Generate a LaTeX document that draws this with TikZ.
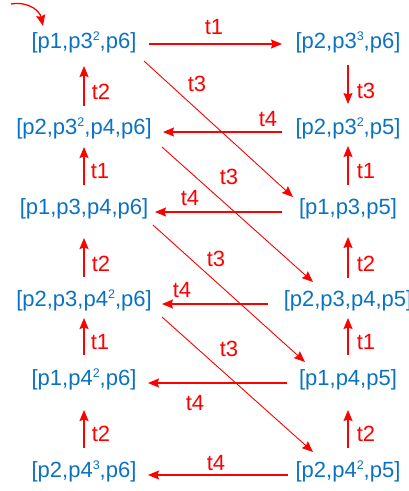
\documentclass[tikz,border=0pt]{standalone}
\usepackage{fontspec}
\setmainfont{Liberation Sans}
\usetikzlibrary{arrows.meta}
\definecolor{nodeblue}{RGB}{10,114,194}
\definecolor{arrred}{RGB}{255,0,0}
\newcommand\mysup[1]{\raisebox{0.36em}{\fontsize{12.5}{13}\selectfont #1}}
\begin{document}
\begin{tikzpicture}[x=1pt,y=-1pt,
  state/.style={inner sep=0pt, text height=0.73em, text depth=0.21em, text=nodeblue, font=\fontsize{22}{26}\selectfont},
  lbl/.style={inner sep=0pt, text=arrred, font=\fontsize{22}{26}\selectfont},
  arr/.style={draw=arrred, line width=1.3pt, -{Stealth[length=11pt,width=9pt,inset=1.5pt]}},
  diag/.style={arr, line width=0.9pt}]
\useasboundingbox (0,0) rectangle (409,491);
% states
\node[state] (L1) at (84,46)  {[p1,p3\mysup{2},p6]};
\node[state] (L2) at (84,132) {[p2,p3\mysup{2},p4,p6]};
\node[state] (L3) at (84,212) {[p1,p3,p4,p6]};
\node[state] (L4) at (84,304) {[p2,p3,p4\mysup{2},p6]};
\node[state] (L5) at (84,383) {[p1,p4\mysup{2},p6]};
\node[state] (L6) at (84,475) {[p2,p4\mysup{3},p6]};
\node[state] (R1) at (348,46)  {[p2,p3\mysup{3},p6]};
\node[state] (R2) at (348,132) {[p2,p3\mysup{2},p5]};
\node[state] (R3) at (348,212) {[p1,p3,p5]};
\node[state] (R4) at (348,304) {[p2,p3,p4,p5]};
\node[state] (R5) at (348,383) {[p1,p4,p5]};
\node[state] (R6) at (348,475) {[p2,p4\mysup{2},p5]};
% initial arrow
\coordinate (s0) at (11,4);
\coordinate (s1) at (43,26);
\draw[arr] (s0) .. controls (30,1) and (40,12) .. (s1);
% vertical arrows
\draw[arr, shorten <=26pt, shorten >=20pt] (L2.center) -- (L1.center);
\draw[arr, shorten <=27pt, shorten >=15pt] (L3.center) -- (L2.center);
\draw[arr, shorten <=27pt, shorten >=26pt] (L4.center) -- (L3.center);
\draw[arr, shorten <=28pt, shorten >=14pt] (L5.center) -- (L4.center);
\draw[arr, shorten <=27pt, shorten >=27pt] (L6.center) -- (L5.center);
\draw[arr, shorten <=19pt, shorten >=28pt] (R1.center) -- (R2.center);
\draw[arr, shorten <=27pt, shorten >=14pt] (R3.center) -- (R2.center);
\draw[arr, shorten <=26pt, shorten >=25pt] (R4.center) -- (R3.center);
\draw[arr, shorten <=28pt, shorten >=14pt] (R5.center) -- (R4.center);
\draw[arr, shorten <=27pt, shorten >=27pt] (R6.center) -- (R5.center);
% horizontal arrows
\draw[arr, shorten <=65pt, shorten >=66pt] ([yshift=2pt]L1.center) -- ([yshift=2pt]R1.center);
\draw[arr, shorten <=66pt, shorten >=79pt] (R2.center) -- (L2.center);
\draw[arr, shorten <=66pt, shorten >=71pt] (R3.center) -- (L3.center);
\draw[arr, shorten <=80pt, shorten >=78pt] (R4.center) -- (L4.center);
\draw[arr, shorten <=61pt, shorten >=64pt] (R5.center) -- (L5.center);
\draw[arr, shorten <=60pt, shorten >=64pt] (R6.center) -- (L6.center);
% diagonal arrows
\draw[diag] ([shift={(60,15)}]L1.center) -- ([shift={(-55,-15)}]R3.center);
\draw[diag] ([shift={(78,15)}]L2.center) -- ([shift={(-35,-22)}]R4.center);
\draw[diag] ([shift={(69,13)}]L3.center) -- ([shift={(-43,-21)}]R5.center);
\draw[diag] ([shift={(78,13)}]L4.center) -- ([shift={(-35,-23)}]R6.center);
% labels
\node[lbl] (lt1a) at (214,27) {t1};
\node[lbl] (lt3a) at (366,91) {t3};
\node[lbl] (lt4a) at (268,119) {t4};
\node[lbl] (lt3b) at (197,84) {t3};
\node[lbl] (lt2a) at (101,92) {t2};
\node[lbl] (lt1b) at (100,171) {t1};
\node[lbl] (lt1c) at (366,171) {t1};
\node[lbl] (lt4b) at (190,198) {t4};
\node[lbl] (lt3c) at (229,177) {t3};
\node[lbl] (lt2b) at (101,264) {t2};
\node[lbl] (lt2c) at (366,264) {t2};
\node[lbl] (lt4c) at (182,290) {t4};
\node[lbl] (lt3d) at (216,259) {t3};
\node[lbl] (lt1d) at (100,342) {t1};
\node[lbl] (lt1e) at (366,342) {t1};
\node[lbl] (lt4d) at (195,403) {t4};
\node[lbl] (lt3e) at (229,349) {t3};
\node[lbl] (lt2d) at (101,434) {t2};
\node[lbl] (lt2e) at (366,434) {t2};
\node[lbl] (lt4e) at (216,463) {t4};
\end{tikzpicture}
\end{document}
